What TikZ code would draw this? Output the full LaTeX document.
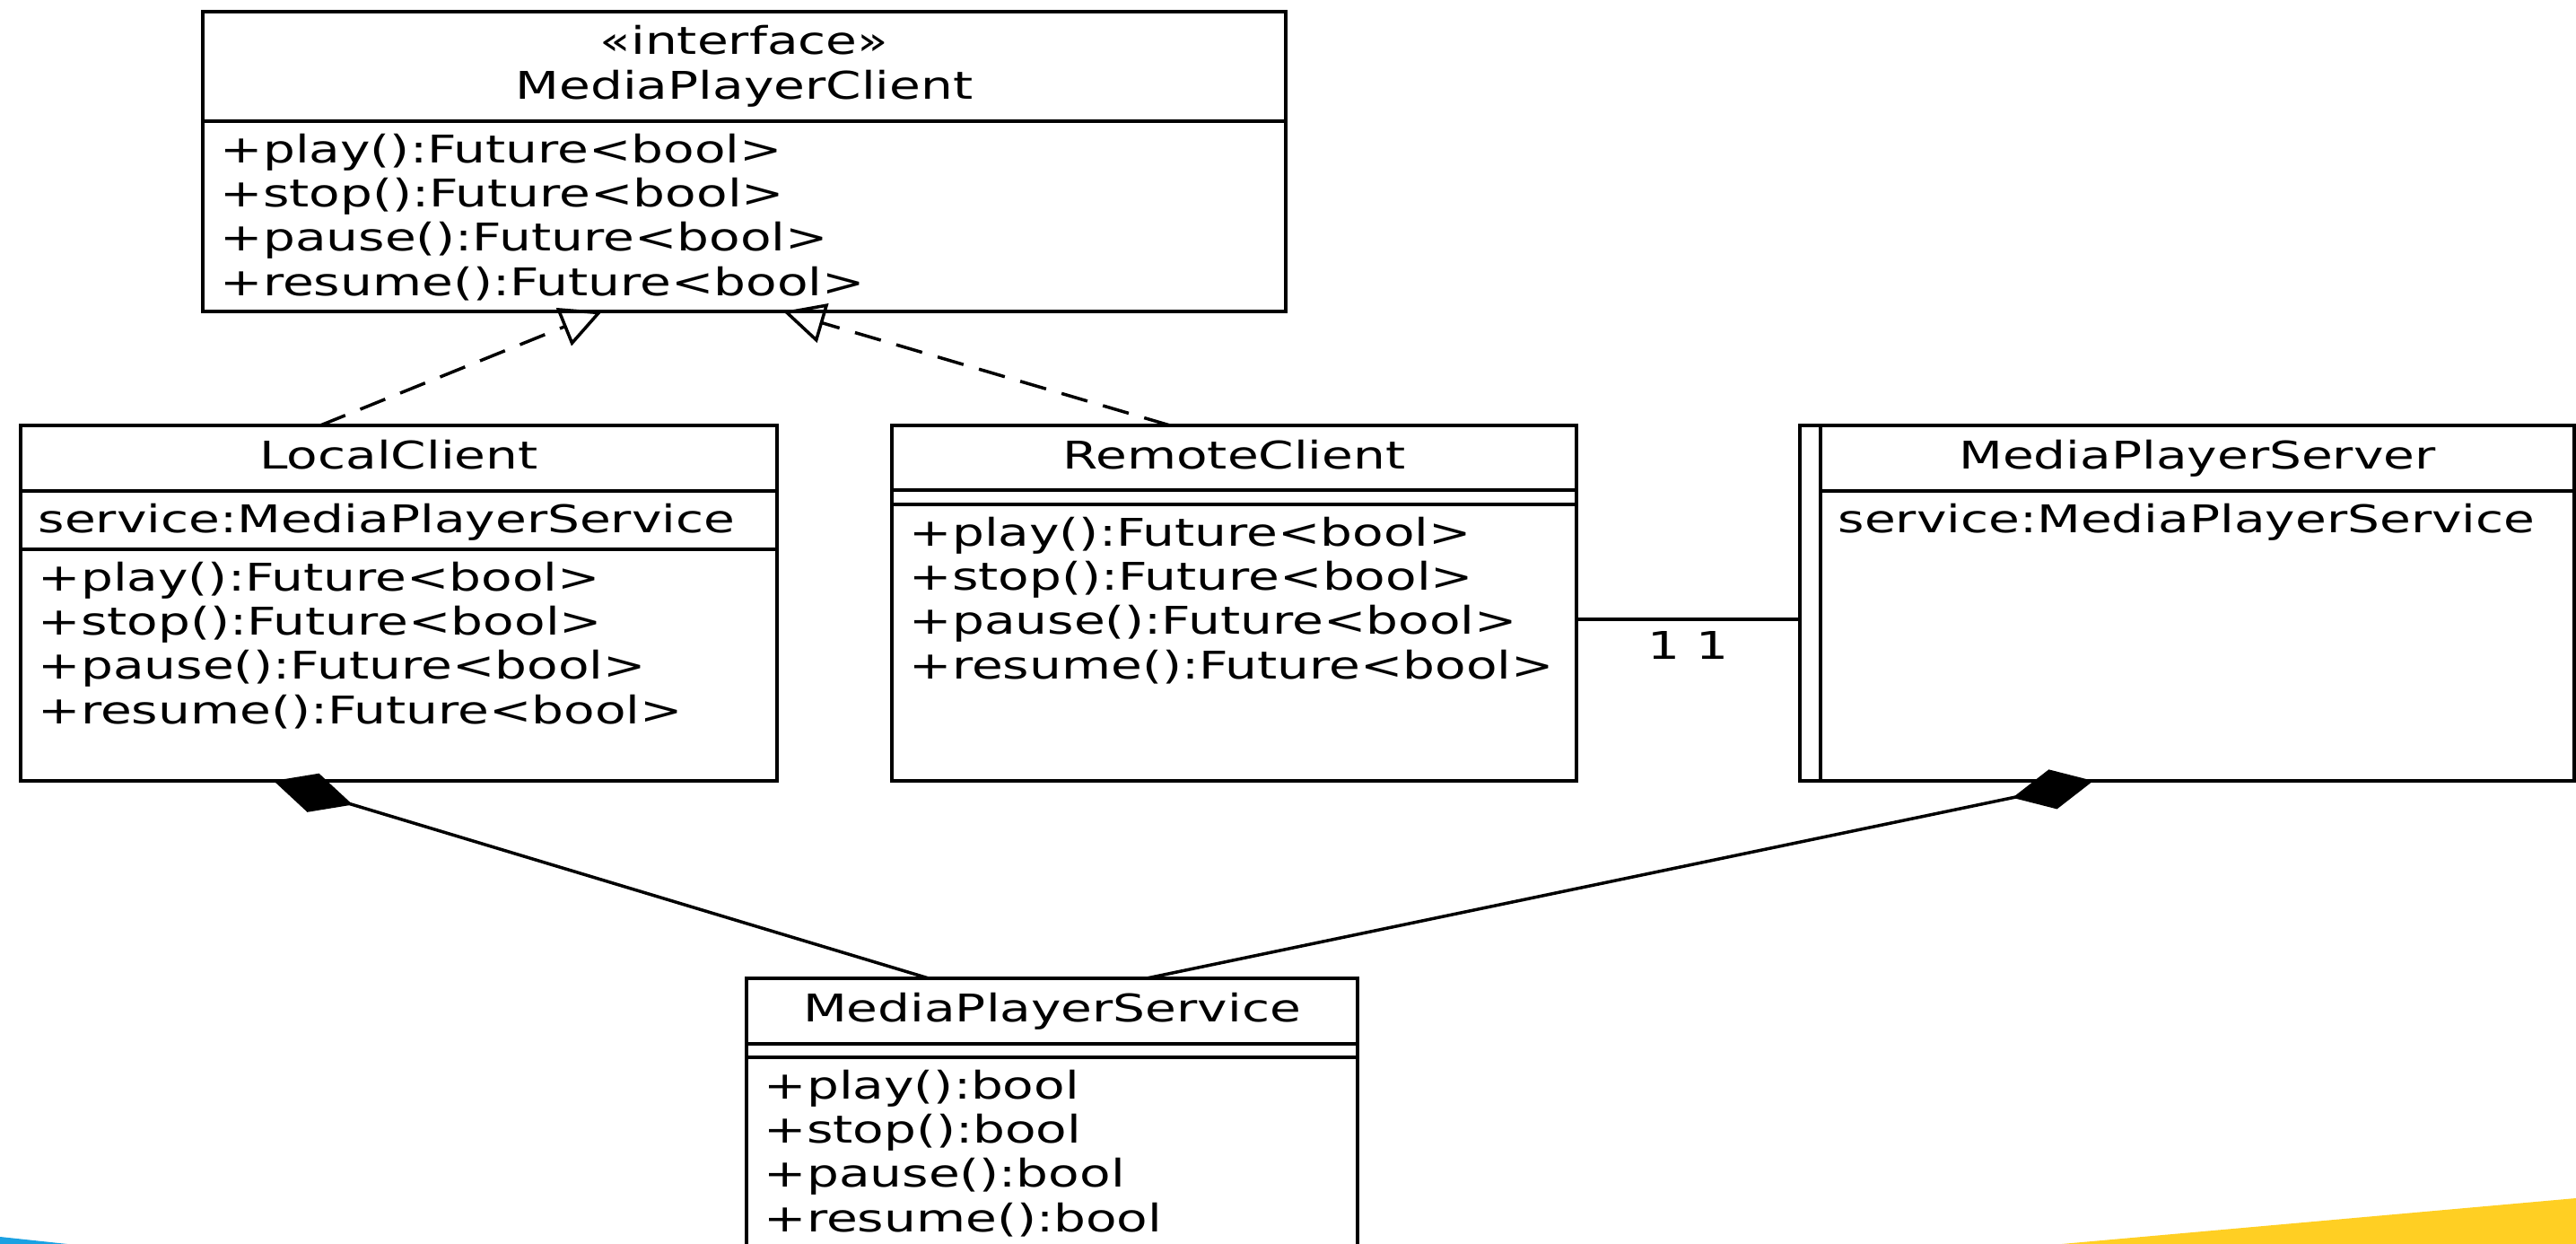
\documentclass[tikz,border=0pt]{standalone}
\usepackage{fontspec}
\setmainfont{DejaVu Sans}[FakeStretch=1.33]
\usepackage{tikz}
\usetikzlibrary{arrows.meta}
\definecolor{cblue}{HTML}{1BA1E2}
\definecolor{cyellow}{HTML}{FFCF23}
\tikzstyle{classpart} = [rectangle, draw, line width=1pt, inner sep=0pt, outer sep=0pt, anchor=north west]
\tikzstyle{classhead} = [classpart, text height=0.93em, text depth=0.24em]
\tikzstyle{members} = [align=left, anchor=north west, inner xsep=0.19cm, inner ysep=0.13cm]
\tikzstyle{realize} = [draw, line width=1pt, dash pattern=on 0.3cm off 0.18cm, -{Triangle[open, length=0.46cm, width=0.45cm]}]
\tikzstyle{compose} = [draw, line width=1pt, -{Diamond[length=0.92cm, width=0.45cm]}]
\tikzstyle{assoc} = [draw, line width=1pt]

\begin{document}
\begin{tikzpicture}[font=\fontsize{12.1}{14.08}\selectfont]
    \clip (0, 0) rectangle (28.71, -13.86);

    % corner shapes
    \fill[cblue] (0, -13.78) -- (0.75, -13.86) -- (0, -13.86) -- cycle;
    \fill[cyellow] (22.98, -13.86) -- (28.71, -13.35) -- (28.71, -13.86) -- cycle;

    % interface
    \node[classpart, align=center, minimum width=12.07cm, minimum height=1.22cm] at (2.26, -0.13) (ifacehead) {«interface»\\MediaPlayerClient};
    \node[classpart, minimum width=12.07cm, minimum height=2.12cm] at (ifacehead.south west) (ifaceops) {};
    \node[members] at (ifaceops.north west) (ifaceopslist) {+play():Future<bool>\\+stop():Future<bool>\\+pause():Future<bool>\\+resume():Future<bool>};

    % local client
    \node[classhead, minimum width=8.43cm, minimum height=0.73cm] at (0.23, -4.74) (localhead) {LocalClient};
    \node[classpart, minimum width=8.43cm, minimum height=0.65cm] at (localhead.south west) (localattr) {};
    \node[members] at (localattr.north west) (localattrlist) {service:MediaPlayerService};
    \node[classpart, minimum width=8.43cm, minimum height=2.58cm] at (localattr.south west) (localops) {};
    \node[members] at (localops.north west) (localopslist) {+play():Future<bool>\\+stop():Future<bool>\\+pause():Future<bool>\\+resume():Future<bool>};

    % remote client
    \node[classhead, minimum width=7.63cm, minimum height=0.72cm] at (9.94, -4.74) (remotehead) {RemoteClient};
    \node[classpart, minimum width=7.63cm, minimum height=0.16cm] at (remotehead.south west) (remoteattr) {};
    \node[classpart, minimum width=7.63cm, minimum height=3.08cm] at (remoteattr.south west) (remoteops) {};
    \node[members] at (remoteops.north west) (remoteopslist) {+play():Future<bool>\\+stop():Future<bool>\\+pause():Future<bool>\\+resume():Future<bool>};

    % server
    \node[classpart, minimum width=0.23cm, minimum height=3.96cm] at (20.06, -4.74) (serverbar) {};
    \node[classhead, minimum width=8.40cm, minimum height=0.73cm] at (serverbar.north east) (serverhead) {MediaPlayerServer};
    \node[classpart, minimum width=8.40cm, minimum height=3.23cm] at (serverhead.south west) (serverattr) {};
    \node[members] at (serverattr.north west) (serverattrlist) {service:MediaPlayerService};

    % service
    \node[classhead, minimum width=6.81cm, minimum height=0.73cm] at (8.32, -10.90) (servicehead) {MediaPlayerService};
    \node[classpart, minimum width=6.81cm, minimum height=0.15cm] at (servicehead.south west) (serviceattr) {};
    \node[classpart, minimum width=6.81cm, minimum height=2.8cm] at (serviceattr.south west) (serviceops) {};
    \node[members] at (serviceops.north west) (serviceopslist) {+play():bool\\+stop():bool\\+pause():bool\\+resume():bool};

    % realization
    \coordinate (lcup) at ([xshift=3.34cm]localhead.north west);
    \coordinate (rcup) at ([xshift=3.10cm]remotehead.north west);
    \coordinate (ifacel) at ([xshift=4.45cm]ifaceops.south west);
    \coordinate (ifacer) at ([xshift=6.47cm]ifaceops.south west);
    \path[realize] (lcup) -- (ifacel);
    \path[realize] (rcup) -- (ifacer);

    % composition
    \coordinate (svcl) at ([xshift=2.03cm]servicehead.north west);
    \coordinate (svcr) at ([xshift=4.46cm]servicehead.north west);
    \coordinate (lcdown) at ([xshift=2.82cm]localops.south west);
    \coordinate (srvdown) at ([xshift=3.27cm]serverbar.south west);
    \path[compose] (svcl) -- (lcdown);
    \path[compose] (svcr) -- (srvdown);

    % association
    \coordinate (rcside) at ([yshift=1.8cm]remoteops.south east);
    \path[assoc] (rcside) -- (rcside -| serverbar.west) node[midway, below] (mult) {1 1};
\end{tikzpicture}
\end{document}
